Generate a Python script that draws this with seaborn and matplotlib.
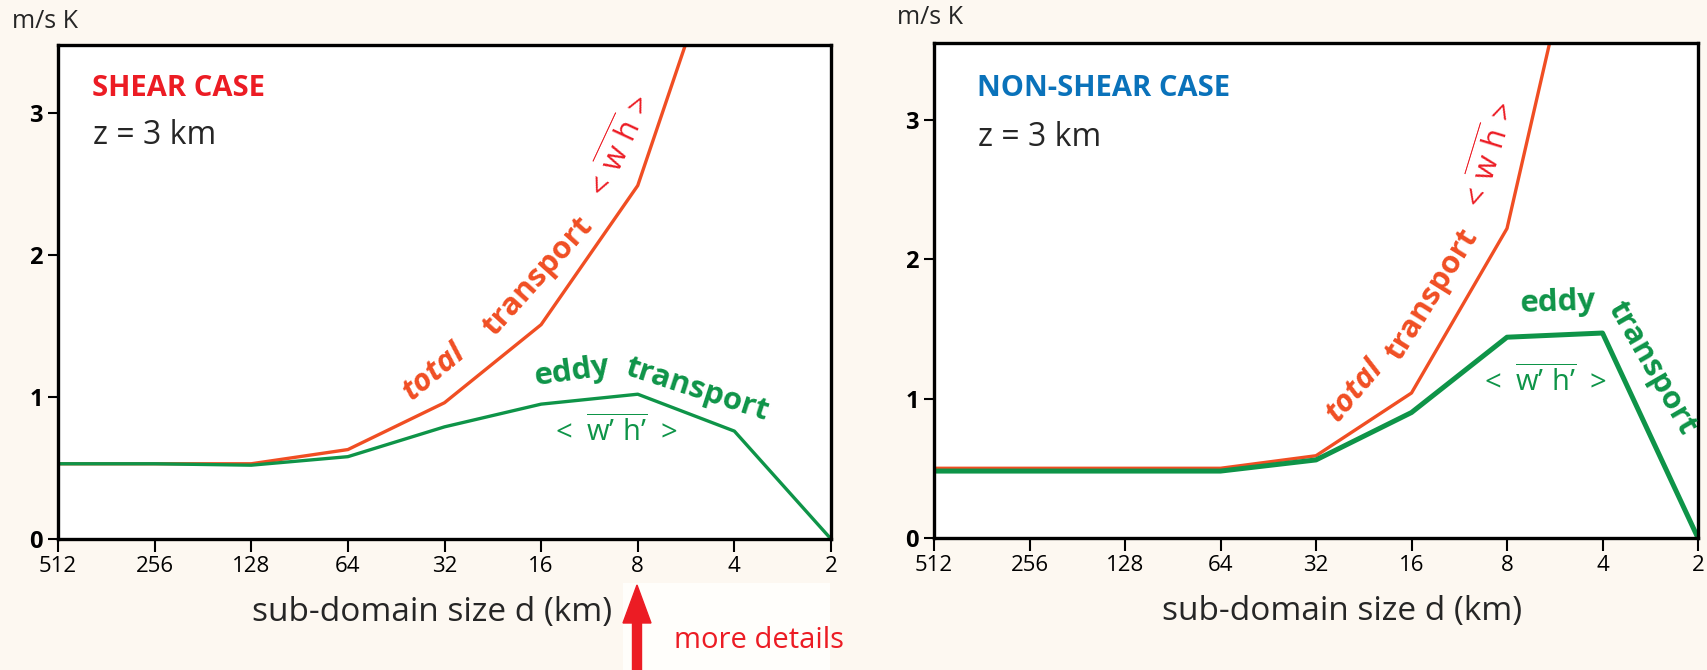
import numpy as np
import pandas as pd
import matplotlib
matplotlib.use("Agg")
import matplotlib.pyplot as plt
from matplotlib.patches import Rectangle, FancyArrow
import seaborn as sns

# ---------------- data ----------------
sizes = [512, 256, 128, 64, 32, 16, 8, 4, 2]
size_labels = ["512", "256", "128", "64", "32", "16", "8", "4", "2"]
shear_total = [0.53, 0.53, 0.53, 0.63, 0.96, 1.51, 2.49, 4.5, np.nan]
shear_eddy = [0.53, 0.53, 0.52, 0.58, 0.79, 0.95, 1.02, 0.76, 0.0]
nonshear_total = [0.50, 0.50, 0.50, 0.50, 0.59, 1.04, 2.22, 5.2, np.nan]
nonshear_eddy = [0.48, 0.48, 0.48, 0.48, 0.56, 0.90, 1.44, 1.47, 0.0]
yticks = [0, 1, 2, 3]

# ---------------- style ----------------
sns.set_style("white")
plt.rcParams["font.family"] = ["Open Sans", "DejaVu Sans"]
plt.rcParams["mathtext.fontset"] = "custom"
plt.rcParams["mathtext.rm"] = "Open Sans"
plt.rcParams["mathtext.it"] = "Open Sans"

BG = "#fdf8f1"
RED_LINE = "#f04e23"
RED_TXT = "#ec1c24"
GREEN = "#0e9448"
BLUE = "#0a72ba"

W, H = 1707, 670
fig = plt.figure(figsize=(W / 100, H / 100), dpi=100)
fig.patch.set_facecolor(BG)

def fx(px):
    return px / W

def fy(py):
    return 1 - py / H

ax1 = fig.add_axes([fx(58), fy(539), fx(831 - 58), (539 - 45) / H])
ax2 = fig.add_axes([fx(934), fy(538), fx(1698 - 934), (538 - 43) / H])

xs = np.log2(sizes)

def style_axes(ax, ytop, xlabel_x):
    ax.set_facecolor("white")
    ax.set_xlim(9, 1)
    ax.set_ylim(0, ytop)
    ax.set_xticks(xs)
    ax.set_xticklabels(size_labels, fontsize=16)
    ax.set_yticks(yticks)
    ax.set_yticklabels([str(v) for v in yticks], fontsize=17, fontweight="bold")
    for s in ax.spines.values():
        s.set_visible(True)
        s.set_color("black")
        s.set_linewidth(2.4)
    ax.tick_params(axis="x", direction="out", length=9, width=1.5, pad=3,
                   bottom=True, colors="black")
    ax.tick_params(axis="y", direction="out", length=7, width=1.5, pad=4,
                   left=True, colors="black")
    ax.set_xlabel("sub-domain size d (km)", fontsize=24)
    ax.xaxis.set_label_coords(xlabel_x, -0.115)
    ax.set_ylabel("")
    ax.grid(False)

# left panel
sns.lineplot(x=xs, y=shear_total, ax=ax1, color=RED_LINE, linewidth=2.4)
sns.lineplot(x=xs, y=shear_eddy, ax=ax1, color=GREEN, linewidth=2.4)
style_axes(ax1, 3.48, 0.484)

# right panel
sns.lineplot(x=xs, y=nonshear_total, ax=ax2, color=RED_LINE, linewidth=2.4)
sns.lineplot(x=xs, y=nonshear_eddy, ax=ax2, color=GREEN, linewidth=3.6)
style_axes(ax2, 3.55, 0.534)

# ---------------- texts ----------------
def ftext(px, py, s, **kw):
    fig.text(fx(px), fy(py), s, **kw)

ftext(12, 22, "m/s K", fontsize=18, ha="left", va="center")
ftext(897, 17, "m/s K", fontsize=18, ha="left", va="center")

ftext(92, 88, "SHEAR CASE", fontsize=21, fontweight="bold", color=RED_TXT,
      ha="left", va="center")
ftext(93, 135, "z = 3 km", fontsize=23, ha="left", va="center")
ftext(977, 88, "NON-SHEAR CASE", fontsize=21, fontweight="bold", color=BLUE,
      ha="left", va="center")
ftext(978, 138, "z = 3 km", fontsize=23, ha="left", va="center")

rot = dict(ha="center", va="center", rotation_mode="anchor")
wh = r"$<\,\overline{\mathrm{w\ h}}\,>$"
wphp = r"$<\ \overline{\mathrm{w’\ h’}}\ >$"

FS = 22.5
# left annotations
ftext(434, 372, "total", fontsize=FS, fontweight="bold", fontstyle="italic",
      color=RED_LINE, rotation=40, **rot)
ftext(538, 277, "transport", fontsize=FS, fontweight="bold",
      color=RED_LINE, rotation=48, **rot)
ftext(620, 148, wh, fontsize=22, color=RED_TXT, rotation=65, **rot)
ftext(572, 372, "eddy", fontsize=FS, fontweight="bold", color=GREEN,
      rotation=8, **rot)
ftext(697, 390, "transport", fontsize=FS, fontweight="bold", color=GREEN,
      rotation=-18, **rot)
ftext(614, 432, wphp, fontsize=21, color=GREEN, **rot)

# right annotations
ftext(1355, 390, "total", fontsize=FS, fontweight="bold", fontstyle="italic",
      color=RED_LINE, rotation=50, **rot)
ftext(1432, 295, "transport", fontsize=FS, fontweight="bold",
      color=RED_LINE, rotation=58, **rot)
ftext(1490, 157, wh, fontsize=22, color=RED_TXT, rotation=73, **rot)
ftext(1558, 303, "eddy", fontsize=FS, fontweight="bold", color=GREEN,
      rotation=2, **rot)
ftext(1652, 368, "transport", fontsize=FS, fontweight="bold", color=GREEN,
      rotation=-60, **rot)
ftext(1543, 382, wphp, fontsize=21, color=GREEN, **rot)

# "more details" box and arrow
fig.patches.append(Rectangle((fx(623), fy(670)), fx(830 - 623), (670 - 583) / H,
                             transform=fig.transFigure, facecolor="#fffefb",
                             edgecolor="none", zorder=0))
fig.patches.append(FancyArrow(fx(637), fy(670), 0, (670 - 585) / H,
                              width=fx(9), head_width=fx(28),
                              head_length=38 / H, length_includes_head=True,
                              transform=fig.transFigure, color=RED_TXT, zorder=3))
ftext(674, 640, "more details", fontsize=21, color=RED_TXT, ha="left", va="center")

fig.savefig("out.png", dpi=100, facecolor=BG)
